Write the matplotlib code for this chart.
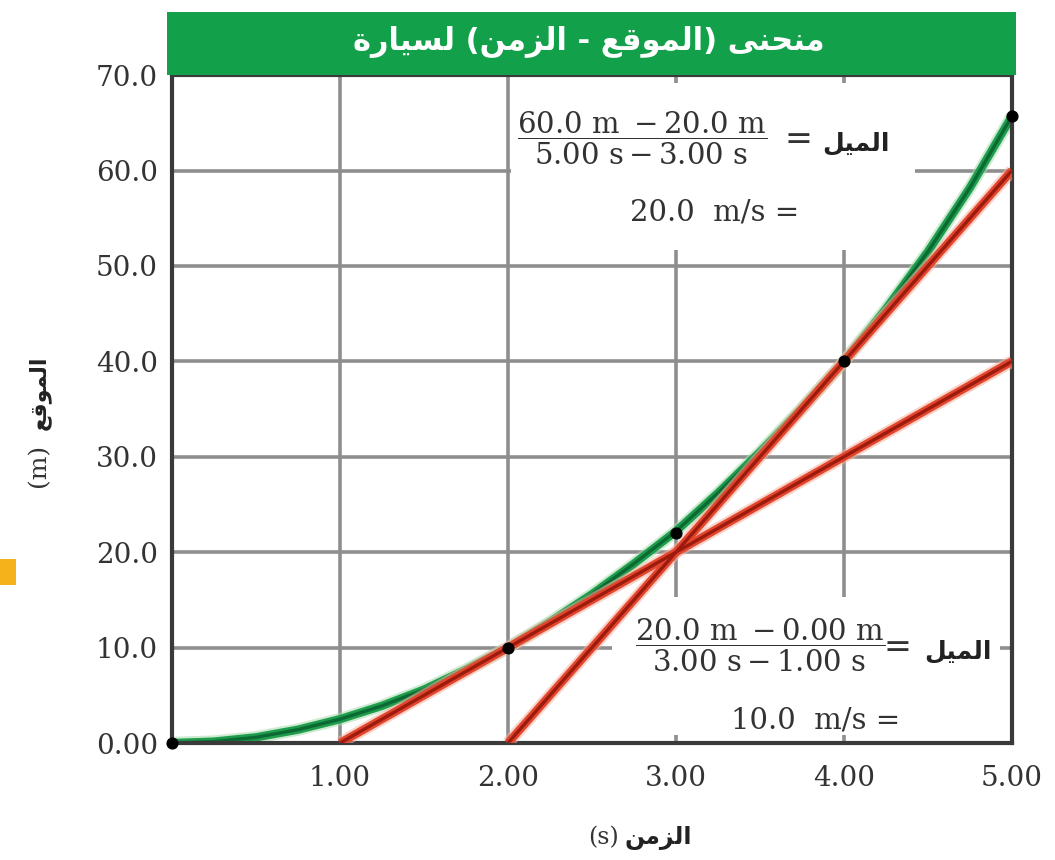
import re

import matplotlib
matplotlib.use("Agg")
import matplotlib.pyplot as plt
from matplotlib.patches import Rectangle

# --- data ------------------------------------------------------------------
time_s = [0.0, 0.25, 0.5, 0.75, 1.0, 1.25, 1.5, 1.75, 2.0, 2.25, 2.5,
          2.75, 3.0, 3.25, 3.5, 3.75, 4.0, 4.25, 4.5, 4.75, 5.0]
position_m = [0.0, 0.15, 0.6, 1.4, 2.5, 3.9, 5.6, 7.7, 10.0, 12.7, 15.6,
              18.8, 22.2, 26.2, 30.5, 35.1, 40.0, 45.5, 51.5, 58.2, 65.7]

tangent_low_t = [1.0, 5.0]
tangent_low_x = [0.0, 40.0]
tangent_high_t = [2.0, 5.0]
tangent_high_x = [0.0, 60.0]

point_t = [0.0, 2.0, 3.0, 4.0, 5.0]
point_x = [0.0, 10.0, 22.0, 40.0, 65.7]

x_ticks = [1, 2, 3, 4, 5]
x_tick_labels = ["1.00", "2.00", "3.00", "4.00", "5.00"]
y_ticks = [0, 10, 20, 30, 40, 50, 60, 70]
y_tick_labels = ["0.00", "10.0", "20.0", "30.0", "40.0", "50.0", "60.0", "70.0"]

title = "منحنى (الموقع - الزمن) لسيارة"
x_label_ar = "الزمن"
y_label_ar = "الموقع"
slope_word = "الميل"

# --- minimal Arabic shaping (matplotlib has no complex text layout) --------
AR_FORMS = {
    "ا": ("\uFE8D", "\uFE8E", None, None),
    "ل": ("\uFEDD", "\uFEDE", "\uFEDF", "\uFEE0"),
    "م": ("\uFEE1", "\uFEE2", "\uFEE3", "\uFEE4"),
    "ن": ("\uFEE5", "\uFEE6", "\uFEE7", "\uFEE8"),
    "ح": ("\uFEA1", "\uFEA2", "\uFEA3", "\uFEA4"),
    "ى": ("\uFEEF", "\uFEF0", "\uFBE8", "\uFBE9"),
    "و": ("\uFEED", "\uFEEE", None, None),
    "ق": ("\uFED5", "\uFED6", "\uFED7", "\uFED8"),
    "ع": ("\uFEC9", "\uFECA", "\uFECB", "\uFECC"),
    "ز": ("\uFEAF", "\uFEB0", None, None),
    "س": ("\uFEB1", "\uFEB2", "\uFEB3", "\uFEB4"),
    "ي": ("\uFEF1", "\uFEF2", "\uFEF3", "\uFEF4"),
    "ر": ("\uFEAD", "\uFEAE", None, None),
    "ة": ("\uFE93", "\uFE94", None, None),
}


def shape(text):
    out = []
    for i, ch in enumerate(text):
        forms = AR_FORMS.get(ch)
        if forms is None:
            out.append(ch)
            continue
        prev = text[i - 1] if i > 0 else ""
        nxt = text[i + 1] if i + 1 < len(text) else ""
        joins_prev = prev in AR_FORMS and AR_FORMS[prev][2] is not None
        joins_next = forms[2] is not None and nxt in AR_FORMS
        if joins_prev and joins_next:
            out.append(forms[3])
        elif joins_prev:
            out.append(forms[1])
        elif joins_next:
            out.append(forms[2])
        else:
            out.append(forms[0])
    return "".join(out)


def rtl(text):
    vis = shape(text)[::-1]
    vis = vis.translate(str.maketrans("()", ")("))
    return re.sub(r"[A-Za-z0-9.]+", lambda m: m.group(0)[::-1], vis)


# --- figure ---------------------------------------------------------------
plt.rcParams["mathtext.fontset"] = "dejavuserif"
SERIF = "DejaVu Serif"
AR_FONT = "DejaVu Sans"
TXT = "#333333"

fig = plt.figure(figsize=(10.55, 8.6), dpi=100)
ax = fig.add_axes([0.163, 0.136, 0.7962, 0.7767])
ax.set_xlim(0, 5)
ax.set_ylim(0, 70)

ax.set_axisbelow(True)
ax.grid(True, color="#8e8e8e", linewidth=2.6)
for side in ax.spines.values():
    side.set_color("#3a3a3a")
    side.set_linewidth(3)

ax.set_xticks(x_ticks)
ax.set_xticklabels(x_tick_labels)
ax.set_yticks(y_ticks)
ax.set_yticklabels(y_tick_labels)
ax.tick_params(length=0, labelsize=20, labelcolor=TXT)
ax.tick_params(axis="x", pad=16)
ax.tick_params(axis="y", pad=10)
for lab in ax.get_xticklabels() + ax.get_yticklabels():
    lab.set_fontfamily(SERIF)

# white panels behind the slope notes (they hide the grid)
ax.add_patch(Rectangle((2.02, 51.7), 2.40, 17.5, facecolor="white",
                       edgecolor="none", zorder=1))
ax.add_patch(Rectangle((2.62, 0.8), 2.31, 14.5, facecolor="white",
                       edgecolor="none", zorder=1))


def glow_line(t, x, halo, mid, core, z):
    ax.plot(t, x, color=halo, linewidth=9, alpha=0.55,
            solid_capstyle="butt", zorder=z)
    ax.plot(t, x, color=mid, linewidth=6, solid_capstyle="butt", zorder=z + 0.1)
    ax.plot(t, x, color=core, linewidth=2.4, solid_capstyle="butt", zorder=z + 0.2)


glow_line(time_s, position_m, "#a6dcae", "#1f9d4c", "#0b6a33", 2)
glow_line(tangent_low_t, tangent_low_x, "#f6b0a0", "#e2462d", "#9c1a0e", 3)
glow_line(tangent_high_t, tangent_high_x, "#f6b0a0", "#e2462d", "#9c1a0e", 3)

ax.scatter(point_t, point_x, s=60, color="black", zorder=5, clip_on=False)

# slope notes
ax.text(2.80, 63.4,
        r"$\dfrac{60.0\ \mathrm{m}\ -20.0\ \mathrm{m}}{5.00\ \mathrm{s}-3.00\ \mathrm{s}}$",
        fontsize=21, color=TXT, ha="center", va="center", zorder=6)
ax.text(3.73, 63.2, "=", fontsize=24, family=SERIF, color=TXT,
        ha="center", va="center", zorder=6)
ax.text(4.07, 62.8, rtl(slope_word), fontsize=18, family=AR_FONT,
        weight="bold", color="#222222", ha="center", va="center", zorder=6)
ax.text(3.23, 55.6, "20.0  m/s =", fontsize=21, family=SERIF, color=TXT,
        ha="center", va="center", zorder=6)

ax.text(3.50, 10.2,
        r"$\dfrac{20.0\ \mathrm{m}\ -0.00\ \mathrm{m}}{3.00\ \mathrm{s}-1.00\ \mathrm{s}}$",
        fontsize=21, color=TXT, ha="center", va="center", zorder=6)
ax.text(4.32, 10.0, "=", fontsize=24, family=SERIF, color=TXT,
        ha="center", va="center", zorder=6)
ax.text(4.68, 9.6, rtl(slope_word), fontsize=18, family=AR_FONT,
        weight="bold", color="#222222", ha="center", va="center", zorder=6)
ax.text(3.83, 2.4, "10.0  m/s =", fontsize=21, family=SERIF, color=TXT,
        ha="center", va="center", zorder=6)

# green title band
fig.patches.append(Rectangle((0.158, 0.9128), 0.805, 0.0732,
                             transform=fig.transFigure, facecolor="#12a04a",
                             edgecolor="none"))
fig.text(0.558, 0.951, rtl(title), fontsize=22, family=AR_FONT, weight="bold",
         color="white", ha="center", va="center")

# axis labels (Arabic word + unit)
fig.text(0.572, 0.026, "(s)", fontsize=17, family=SERIF, color=TXT,
         ha="center", va="center")
fig.text(0.624, 0.025, rtl(x_label_ar), fontsize=17, family=AR_FONT,
         weight="bold", color="#222222", ha="center", va="center")
fig.text(0.037, 0.459, "(m)", fontsize=18, family=SERIF, color=TXT,
         rotation=90, ha="center", va="center")
fig.text(0.037, 0.543, rtl(y_label_ar), fontsize=16, family=AR_FONT,
         weight="bold", color="#222222", rotation=90, ha="center", va="center")

# small orange marker cut at the page edge
fig.patches.append(Rectangle((0.0, 0.320), 0.015, 0.030,
                             transform=fig.transFigure, facecolor="#f6b21b",
                             edgecolor="none"))

fig.savefig("out.png", dpi=100)
